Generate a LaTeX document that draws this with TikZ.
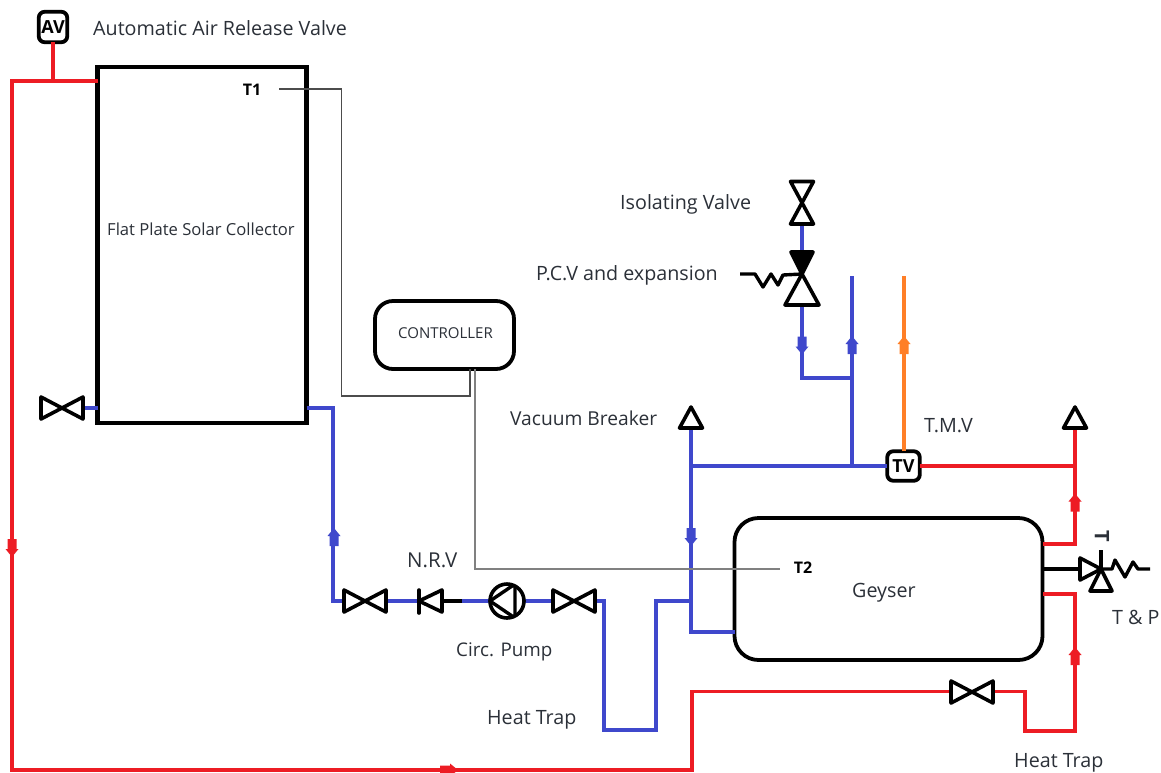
\documentclass[tikz,border=0pt]{standalone}
\usepackage{fontspec}
\setmainfont{Open Sans}
\definecolor{pipered}{HTML}{ED1C24}
\definecolor{pipeblue}{HTML}{3F48CC}
\definecolor{pipeorange}{HTML}{FF7F27}
\definecolor{labelink}{HTML}{2B3038}
\tikzset{
  x=1pt,y=-1pt,
  redpipe/.style={draw=pipered,line width=3.8pt,line join=miter},
  bluepipe/.style={draw=pipeblue,line width=3.8pt,line join=miter},
  orangepipe/.style={draw=pipeorange,line width=3.8pt},
  blackpipe/.style={draw=black,line width=3.4pt,line join=round},
  symbol/.style={draw=black,line width=3.6pt,line join=round,line cap=round,fill=white},
  solidsym/.style={draw=black,line width=3.6pt,line join=round,line cap=round,fill=black},
  wire/.style={draw=#1,line width=1.1pt},
  tag/.style={inner sep=0pt,anchor=west,text=labelink,yshift=-1.5pt,font=\fontsize{19.7pt}{22pt}\selectfont},
  tagsized/.style={inner sep=0pt,anchor=west,text=labelink,yshift=-1.5pt,font=\fontsize{#1}{22pt}\selectfont},
  smalltag/.style={inner sep=0pt,anchor=west,text=labelink,font=\fontsize{16.6pt}{18pt}\selectfont},
  ctltag/.style={inner sep=0pt,anchor=west,text=labelink,font=\fontsize{15pt}{18pt}\selectfont},
  boldtag/.style={inner sep=0pt,text=black,font=\bfseries\fontsize{16pt}{18pt}\selectfont},
  instbox/.style={draw=black,line width=3.8pt,fill=white,rounded corners=6pt,inner sep=0pt,outer sep=0pt,
    font=\bfseries\fontsize{18pt}{20pt}\selectfont},
  tankbox/.style={draw=black,line width=#1,fill=white,inner sep=0pt,outer sep=0pt,anchor=north west},
  flowmark/.pic={\fill[#1] (-4.5,9)--(-4.5,-1)--(-6.5,-1)--(0,-9)--(6.5,-1)--(4.5,-1)--(4.5,9)--cycle;},
  gate/.pic={\draw[symbol] (-21,-11)--(21,11)--(21,-11)--(-21,11)--cycle;},
  gatev/.pic={\draw[symbol] (-11.5,-21.5)--(11.5,-21.5)--(-11.5,21)--(11.5,21)--cycle;},
  breaker/.pic={\draw[symbol] (0,-10.5)--(11.5,10.5)--(-11.5,10.5)--cycle;},
}
\begin{document}
\begin{tikzpicture}
\useasboundingbox (0,0) rectangle (1161,772);
% tanks and boxes
\node[tankbox=4.4pt,minimum width=209pt,minimum height=356pt] (collector) at (97.5,67) {};
\node[tankbox=3.8pt,rounded corners=24pt,minimum width=308pt,minimum height=142pt] (geyser) at (734.5,518) {};
\node[tankbox=3.8pt,rounded corners=18pt,minimum width=139pt,minimum height=68pt] (controller) at (375,301) {};
\node[instbox,minimum width=28.5pt,minimum height=30.5pt] (av) at (53,27) {AV};
\node[instbox,minimum width=32.5pt,minimum height=29.5pt] (tv) at (903.5,466) {TV};
% routing points
\foreach \n/\x/\y in {
  rA/12/81, rB/12/770, rC/692/770, rD/692/691.5, rE/1025/691.5, rF/1025/731, rG/1075/731, rH/1075/594, rI/1075/544,
  rTop/1075/428,
  bA/333/408, bB/333/601, bC/604/601, bD/604/730, bE/656/730, bF/656/601, bG/691/601, bH/691/632,
  bTop/691/428, bJ/691/466, bK/852/466, bL/852/276, bM/852/378, bN/802/378, bO/802/306, bP/802/251, bQ/802/224,
  oTop/904/276,
  wA/279/89, wB/341.5/89, wC/341.5/396, wD/470/396, wE/475/569, wF/780/569,
  lv/62/408, v1/365/601, nrv/419/601, nrvEnd/462/601, nrvBase/442/601, pump/507/601, v2/574/601, v3/972/692,
  tp/1101/569, tpIn/1080/569, tpUp/1101/550, tpS/1150/569, pcv/802/274, pS/740/274, iso/802/203}
  {\coordinate (\n) at (\x,\y);}
% red loop
\draw[redpipe] (collector.west |- rA) -- (rA) -- (rB) -- (rC) -- (rD) -- (rE) -- (rF) -- (rG) -- (rH) -- (geyser.east |- rH);
\draw[redpipe] (av.south) -- (av.south |- rA);
\draw[redpipe] (geyser.east |- rI) -- (rI) -- (rTop);
\draw[redpipe] (tv.east) -- (tv.east -| rI);
% blue
\draw[bluepipe] (lv) -- (collector.west |- lv);
\draw[bluepipe] (collector.east |- bA) -- (bA) -- (bB) -- (bC) -- (bD) -- (bE) -- (bF) -- (bG);
\draw[bluepipe] (bTop) -- (bH) -- (geyser.west |- bH);
\draw[bluepipe] (bJ) -- (tv.west);
\draw[bluepipe] (bK) -- (bL);
\draw[bluepipe] (bM) -- (bN) -- (bO);
\draw[bluepipe] (bP) -- (bQ);
% orange
\draw[orangepipe] (tv.north -| oTop) -- (oTop);
% control wires
\draw[wire=black!70] (wA) -- (wB) -- (wC) -- (wD) -- (wD |- controller.south);
\draw[wire=black!50] (controller.south -| wE) -- (wE) -- (wF);
% black stubs
\draw[blackpipe] (nrvBase) -- (nrvEnd);
\draw[blackpipe] (geyser.east |- tp) -- (tpIn);
\draw[blackpipe] (tp) -- (tpUp);
\draw[blackpipe,line cap=butt] (tp) -- (1112,569) -- (1115,560) -- (1125,577) -- (1133,562) -- (1138,569) -- (tpS);
\draw[blackpipe,line cap=butt] (pS) -- (755,274) -- (763,287) -- (771,274) -- (778,285) -- (783,275) -- (pcv);
% flow marks
\pic at (852,345) {flowmark=pipeblue};
\pic at (904,345) {flowmark=pipeorange};
\pic at (334,537) {flowmark=pipeblue};
\pic at (1075,502.5) {flowmark=pipered};
\pic at (1075,656) {flowmark=pipered};
\pic[rotate=180] at (802,345.5) {flowmark=pipeblue};
\pic[rotate=180] at (691,537) {flowmark=pipeblue};
\pic[rotate=180] at (12,548) {flowmark=pipered};
\pic[rotate=-90] at (449,770) {flowmark=pipered};
% valves
\pic at (lv) {gate};
\pic at (v1) {gate};
\pic at (v2) {gate};
\pic at (v3) {gate};
\pic at (iso) {gatev};
\pic at (691,417.5) {breaker};
\pic at (1075,417.5) {breaker};
% pressure control valve
\draw[solidsym] (791,252) -- (813,252) -- (pcv) -- cycle;
\draw[symbol] (pcv) -- (819,305) -- (785,305) -- cycle;
% non return valve
\draw[symbol] (nrv) -- (nrvBase |- 0,590) -- (nrvBase |- 0,612) -- cycle;
\draw[blackpipe,line width=3.6pt,line cap=round] (419,590) -- (419,613);
% pump
\node[draw=black,line width=3.6pt,circle,fill=white,minimum size=34pt,inner sep=0pt,outer sep=0pt] (circpump) at (pump) {};
\begin{scope}
  \clip (pump) circle (17pt);
  \draw[blackpipe] (490,601) -- (515,584) -- (515,618) -- cycle;
\end{scope}
% T and P valve
\draw[symbol] (tp) -- (tpIn |- 0,558) -- (tpIn |- 0,580) -- cycle;
\draw[symbol] (tp) -- (1112,591) -- (1090,591) -- cycle;
% labels
\node[tag] (lblav) at (93,27) {Automatic Air Release Valve};
\node[smalltag] (lblcol) at (107,229) {Flat Plate Solar Collector};
\node[boldtag] (t1) at (252,90) {T1};
\node[boldtag] (t2) at (803,568) {T2};
\node[ctltag] (lblctl) at (398,333) {CONTROLLER};
\node[tag] (lbliso) at (620,203) {Isolating Valve};
\node[tag] (lblpcv) at (536,274) {P.C.V and expansion};
\node[tagsized=19.2pt] (lblvac) at (510,417) {Vacuum Breaker};
\node[tag] (lbltmv) at (924,424) {T.M.V};
\node[tagsized=20.5pt] (lblnrv) at (407,559) {N.R.V};
\node[tagsized=18.8pt] (lblpump) at (456,650) {Circ. Pump};
\node[tag] (lbltrap) at (487,718) {Heat Trap};
\node[tag] (lblgey) at (852,591) {Geyser};
\node[tag] (lbltp) at (1112,616) {T \& P};
\node[tag] (lbltrapb) at (1014,761) {Heat Trap};
\node[inner sep=0pt,rotate=-90,text=labelink,font=\bfseries\fontsize{20pt}{22pt}\selectfont] (lblt) at (1102,536) {T};
\end{tikzpicture}
\end{document}
